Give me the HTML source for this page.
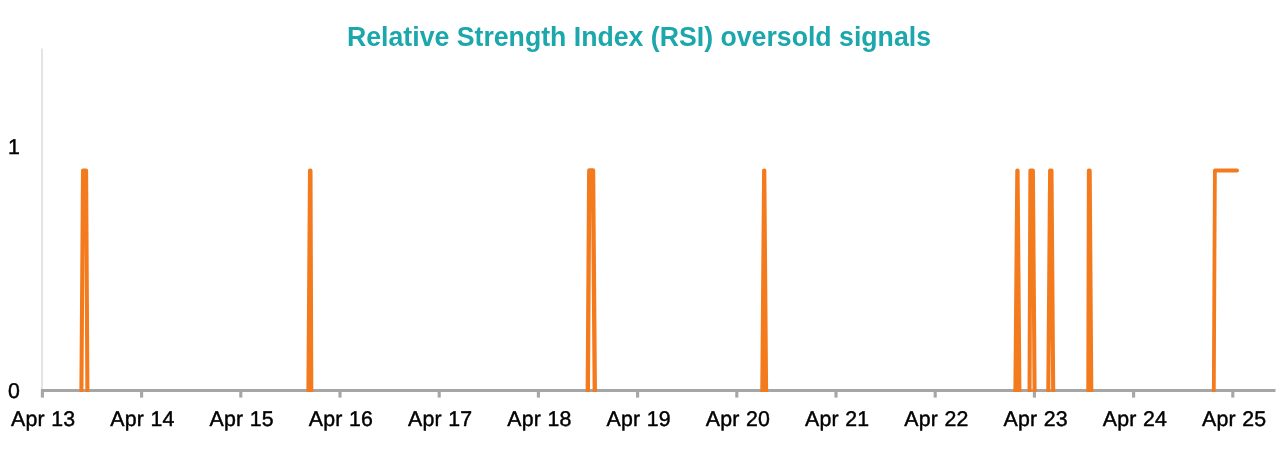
<!DOCTYPE html>
<html>
<head>
<meta charset="utf-8">
<title>Relative Strength Index (RSI) oversold signals</title>
<style>
  html, body { margin: 0; padding: 0; background: #ffffff; }
  body { width: 1280px; height: 457px; overflow: hidden; position: relative; font-family: "Liberation Sans", sans-serif; }
  #layer { position: absolute; left: 0; top: 0; width: 1280px; height: 457px; will-change: transform; }
  svg { position: absolute; left: 0; top: 0; display: block; }
  .lbl { font-family: "Liberation Sans", sans-serif; font-size: 21.33px; fill: #000000; word-spacing: 0.5px; letter-spacing: 0.15px; text-rendering: geometricPrecision; stroke: #000000; stroke-width: 0.45px; stroke-linejoin: round; }
  .ttl { font-family: "Liberation Sans", sans-serif; font-weight: bold; font-size: 26.8px; fill: #1ba7ab; }
</style>
</head>
<body>
<div id="layer">
<svg width="1280" height="457" viewBox="0 0 1280 457">
  <!-- title -->
  <text class="ttl" x="347" y="45.65" textLength="584" lengthAdjust="spacingAndGlyphs">Relative Strength Index (RSI) oversold signals</text>

  <!-- y axis -->
  <line x1="42" y1="48.4" x2="42" y2="390" stroke="#d9d9d9" stroke-width="1.4"/>

  <!-- x axis -->
  <line x1="41" y1="390.5" x2="1275.5" y2="390.5" stroke="#a6a6a6" stroke-width="2.8"/>
  <g stroke="#a6a6a6" stroke-width="3.1">
    <line x1="42.4" y1="390" x2="42.4" y2="397.6"/>
    <line x1="141.6" y1="390" x2="141.6" y2="397.6"/>
    <line x1="240.8" y1="390" x2="240.8" y2="397.6"/>
    <line x1="340.0" y1="390" x2="340.0" y2="397.6"/>
    <line x1="439.2" y1="390" x2="439.2" y2="397.6"/>
    <line x1="538.4" y1="390" x2="538.4" y2="397.6"/>
    <line x1="637.6" y1="390" x2="637.6" y2="397.6"/>
    <line x1="736.8" y1="390" x2="736.8" y2="397.6"/>
    <line x1="836.0" y1="390" x2="836.0" y2="397.6"/>
    <line x1="935.2" y1="390" x2="935.2" y2="397.6"/>
    <line x1="1034.4" y1="390" x2="1034.4" y2="397.6"/>
    <line x1="1133.6" y1="390" x2="1133.6" y2="397.6"/>
    <line x1="1232.8" y1="390" x2="1232.8" y2="397.6"/>
  </g>

  <!-- series -->
  <defs><clipPath id="plot"><rect x="41" y="100" width="1236" height="291.9"/></clipPath></defs>
  <g clip-path="url(#plot)" fill="none" stroke="#f37b1e" stroke-width="4.05" stroke-linejoin="round" stroke-linecap="round">
    <polyline points="81.4,391 83,170.5 86.1,170.5 87.4,391"/>
    <polyline points="308.4,391 310,170.5 310.5,170.5 311.3,391"/>
    <polyline stroke-width="4.35" points="587.8,391 589.25,170.5 593.05,170.5 594.8,391"/>
    <polyline points="762.3,391 764.1,170.5 764.3,170.5 766.1,391"/>
    <polyline points="1015.4,391 1017.3,170.5 1017.6,170.5 1019.4,391"/>
    <polyline points="1029.55,391 1030.4,170.5 1032.9,170.5 1034.6,391"/>
    <polyline points="1048.3,391 1050.1,170.5 1051.5,170.5 1053.2,391"/>
    <polyline points="1088.3,391 1088.9,170.5 1089.7,170.5 1091.3,391"/>
    <polyline stroke-width="3.8" points="1213.8,391 1214.9,170.5 1237.1,170.5"/>
  </g>

  <!-- y labels -->
  <text class="lbl" x="20.1" y="154" text-anchor="end">1</text>
  <text class="lbl" x="20.1" y="398.1" text-anchor="end">0</text>

  <!-- x labels -->
  <g class="lbl" text-anchor="middle">
    <text x="43.20" y="425.8">Apr 13</text>
    <text x="142.45" y="425.8">Apr 14</text>
    <text x="241.70" y="425.8">Apr 15</text>
    <text x="340.95" y="425.8">Apr 16</text>
    <text x="440.20" y="425.8">Apr 17</text>
    <text x="539.45" y="425.8">Apr 18</text>
    <text x="638.70" y="425.8">Apr 19</text>
    <text x="737.95" y="425.8">Apr 20</text>
    <text x="837.20" y="425.8">Apr 21</text>
    <text x="936.45" y="425.8">Apr 22</text>
    <text x="1035.70" y="425.8">Apr 23</text>
    <text x="1134.95" y="425.8">Apr 24</text>
    <text x="1234.20" y="425.8">Apr 25</text>
  </g>
</svg>
</div>
</body>
</html>
